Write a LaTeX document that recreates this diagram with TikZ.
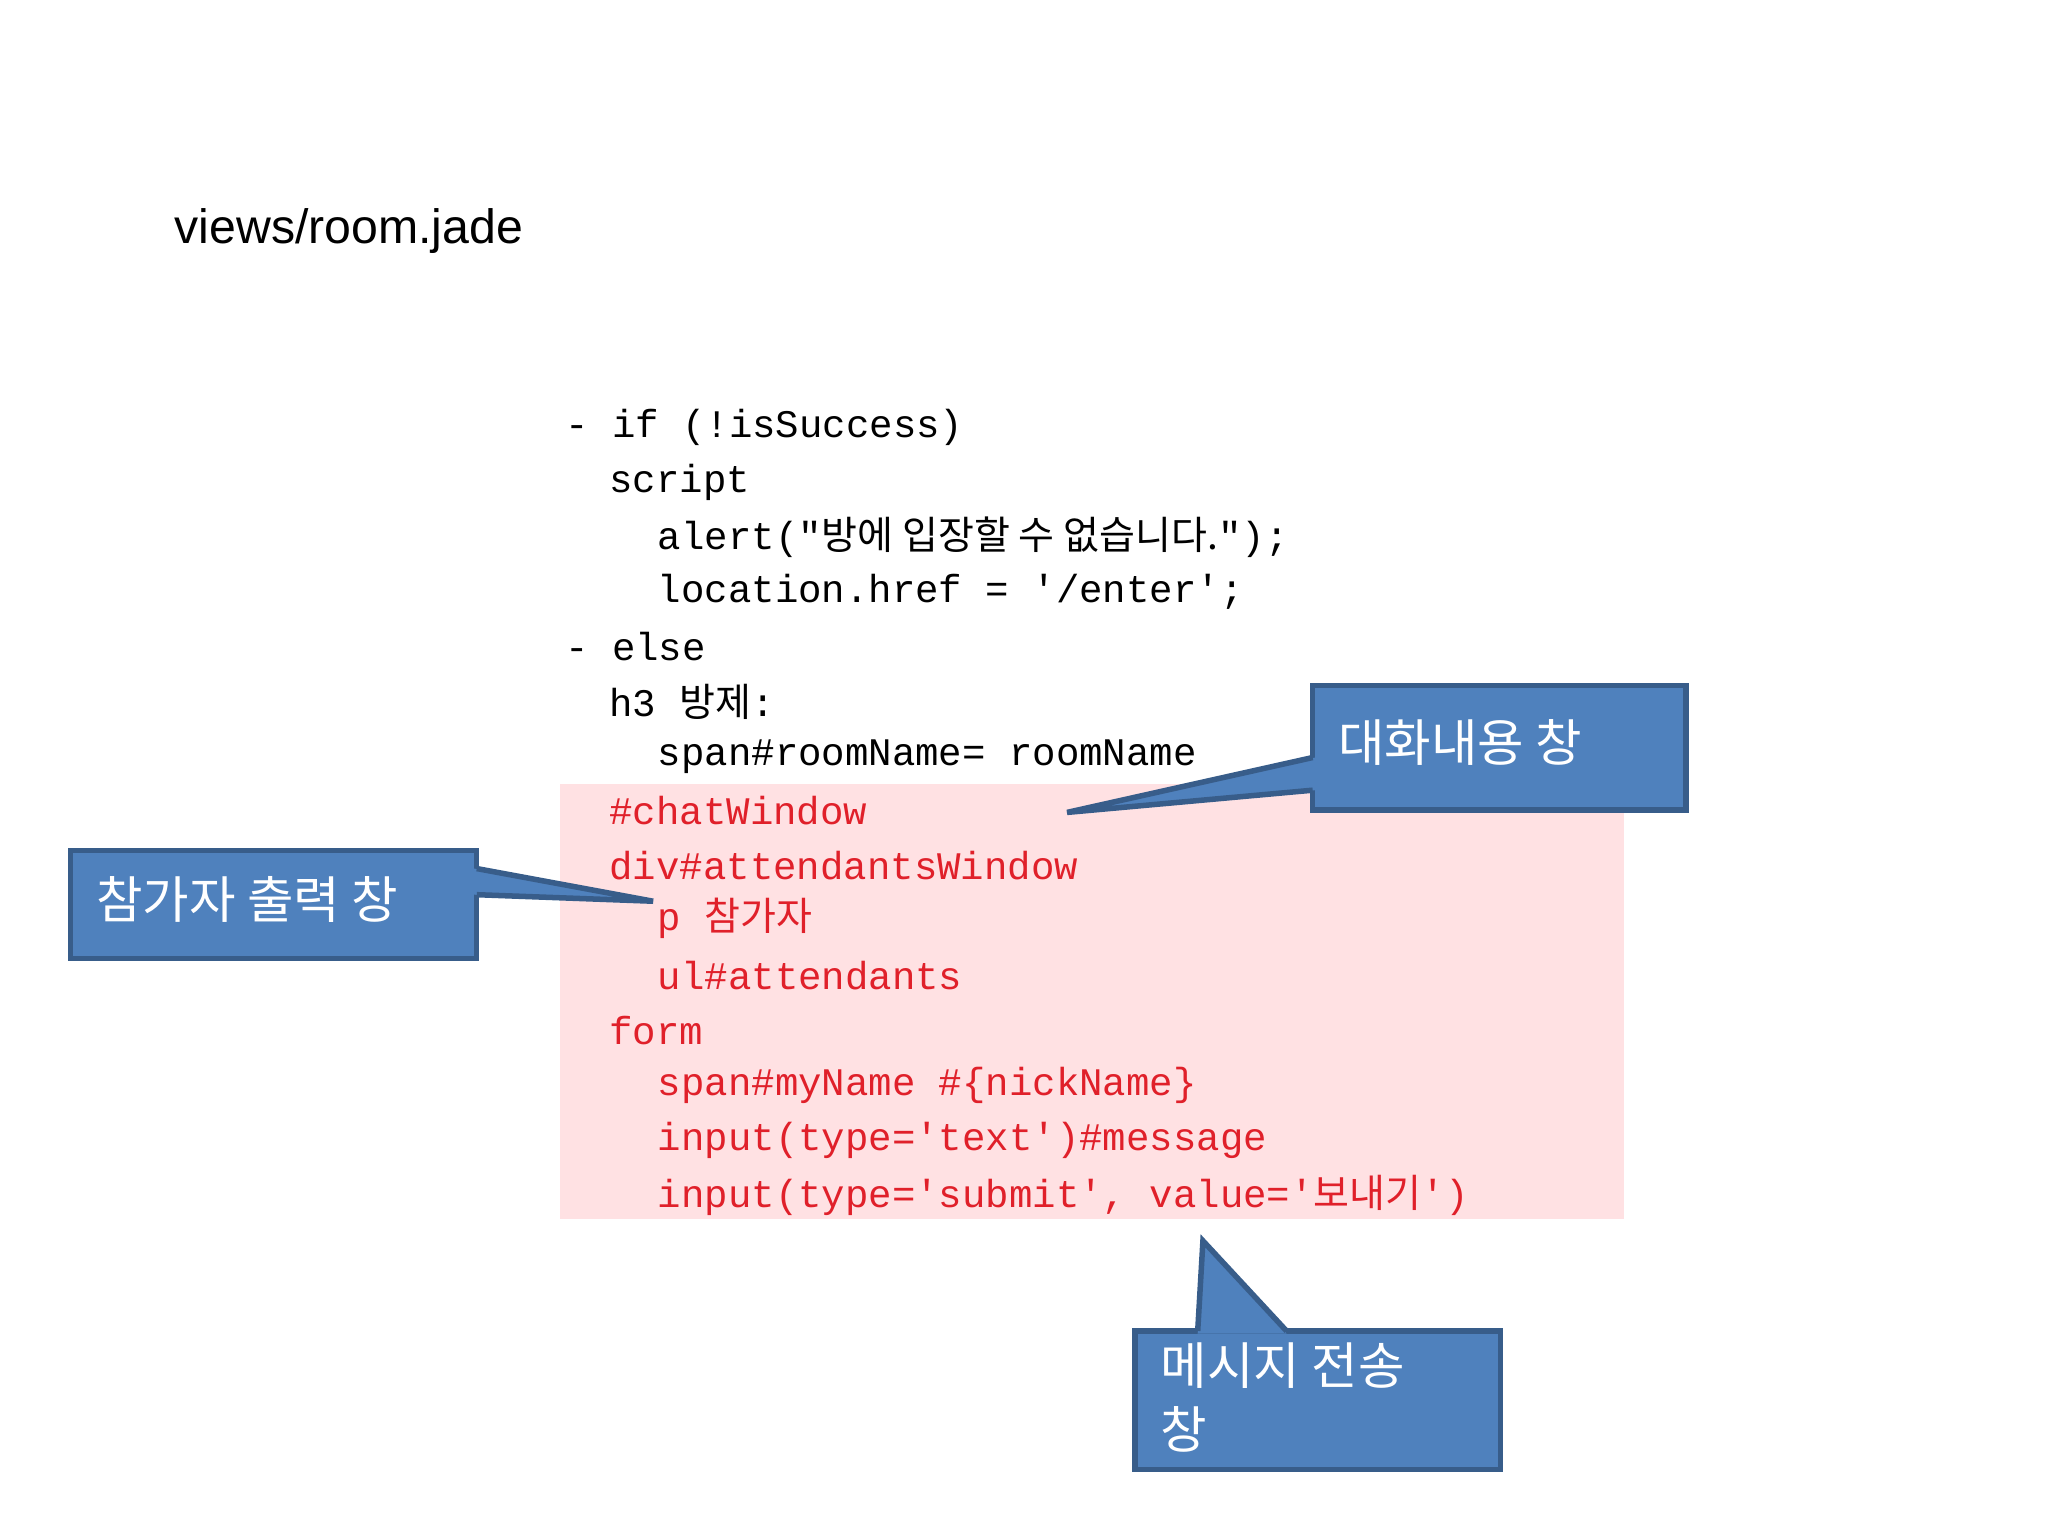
\documentclass[tikz,border=0pt]{standalone}
\usepackage{fontspec}
\setmainfont{Liberation Sans}
\setmonofont{Liberation Mono}
\newfontfamily\cjk{Noto Sans CJK KR}
\usepackage{xcolor}
\definecolor{calloutfill}{HTML}{4F81BD}
\definecolor{calloutdraw}{HTML}{385D8A}
\definecolor{codepink}{HTML}{FFE1E3}
\definecolor{codered}{HTML}{E0202A}
\tikzset{
  code/.style={anchor=west, inner sep=0pt, font=\fontsize{8.5}{10}\ttfamily},
  hot/.style={code, text=codered},
  callout/.style={fill=calloutfill, draw=calloutdraw, line width=1.2pt},
  calltext/.style={anchor=north west, inner sep=0pt, text=white, align=left, font=\fontsize{11}{14}\cjk}
}

\begin{document}
\begin{tikzpicture}[x=0.01cm, y=-0.01cm]
		\useasboundingbox (0, 0) rectangle (1568, 1176);
		\node [anchor=west, inner sep=0pt, font=\fontsize{10.5}{12}\selectfont] (title) at (133, 177) {views/room.jade};
		\fill [codepink] (429, 600) rectangle (1243, 933);
		\node [code] (l1) at (432, 327) {- if (!isSuccess)};
		\node [code] (l2) at (466, 369) {script};
		\node [code] (l3) at (503, 411) {alert("{\cjk 방에 입장할 수 없습니다.}");};
		\node [code] (l4) at (503, 453) {location.href = '/enter';};
		\node [code] (l5) at (432, 495) {- else};
		\node [code] (l6) at (466, 537) {h3 {\cjk 방제}:};
		\node [code] (l7) at (503, 579) {span\#roomName= roomName};
		\node [hot] (chat) at (466, 621) {\#chatWindow};
		\node [hot] (att) at (466, 663) {div\#attendantsWindow};
		\node [hot] (para) at (503, 703) {p {\cjk 참가자}};
		\node [hot] (ul) at (503, 747) {ul\#attendants};
		\node [hot] (form) at (466, 789) {form};
		\node [hot] (my) at (503, 831) {span\#myName \#\{nickName\}};
		\node [hot] (msg) at (503, 873) {input(type='text')\#message};
		\node [hot] (sub) at (503, 915) {input(type='submit', value='{\cjk 보내기}')};
		% callouts
		\coordinate (chatTip) at (817, 622);
		\coordinate (attTip) at (500, 690);
		\coordinate (subTip) at (921, 950);
		\draw [callout] (1005, 525) rectangle (1291, 620);
		\fill [calloutfill] (1007, 580) -- (chatTip) -- (1007, 605) -- cycle;
		\draw [calloutdraw, line width=1.2pt] (1005, 580) -- (chatTip) -- (1005, 605);
		\node [calltext] (chatLabel) at (1024, 550) {대화내용 창};
		\draw [callout] (54, 651) rectangle (365, 734);
		\fill [calloutfill] (363, 665) -- (attTip) -- (363, 685) -- cycle;
		\draw [calloutdraw, line width=1.2pt] (365, 665) -- (attTip) -- (365, 685);
		\node [calltext] (attLabel) at (73, 670) {참가자 출력 창};
		\draw [callout] (869, 1019) rectangle (1149, 1125);
		\fill [calloutfill] (917, 1021) -- (subTip) -- (985, 1021) -- cycle;
		\draw [calloutdraw, line width=1.2pt] (917, 1019) -- (subTip) -- (985, 1019);
		\node [calltext] (subLabel) at (888, 1027) {메시지 전송\\창};
	\end{tikzpicture}
\end{document}
